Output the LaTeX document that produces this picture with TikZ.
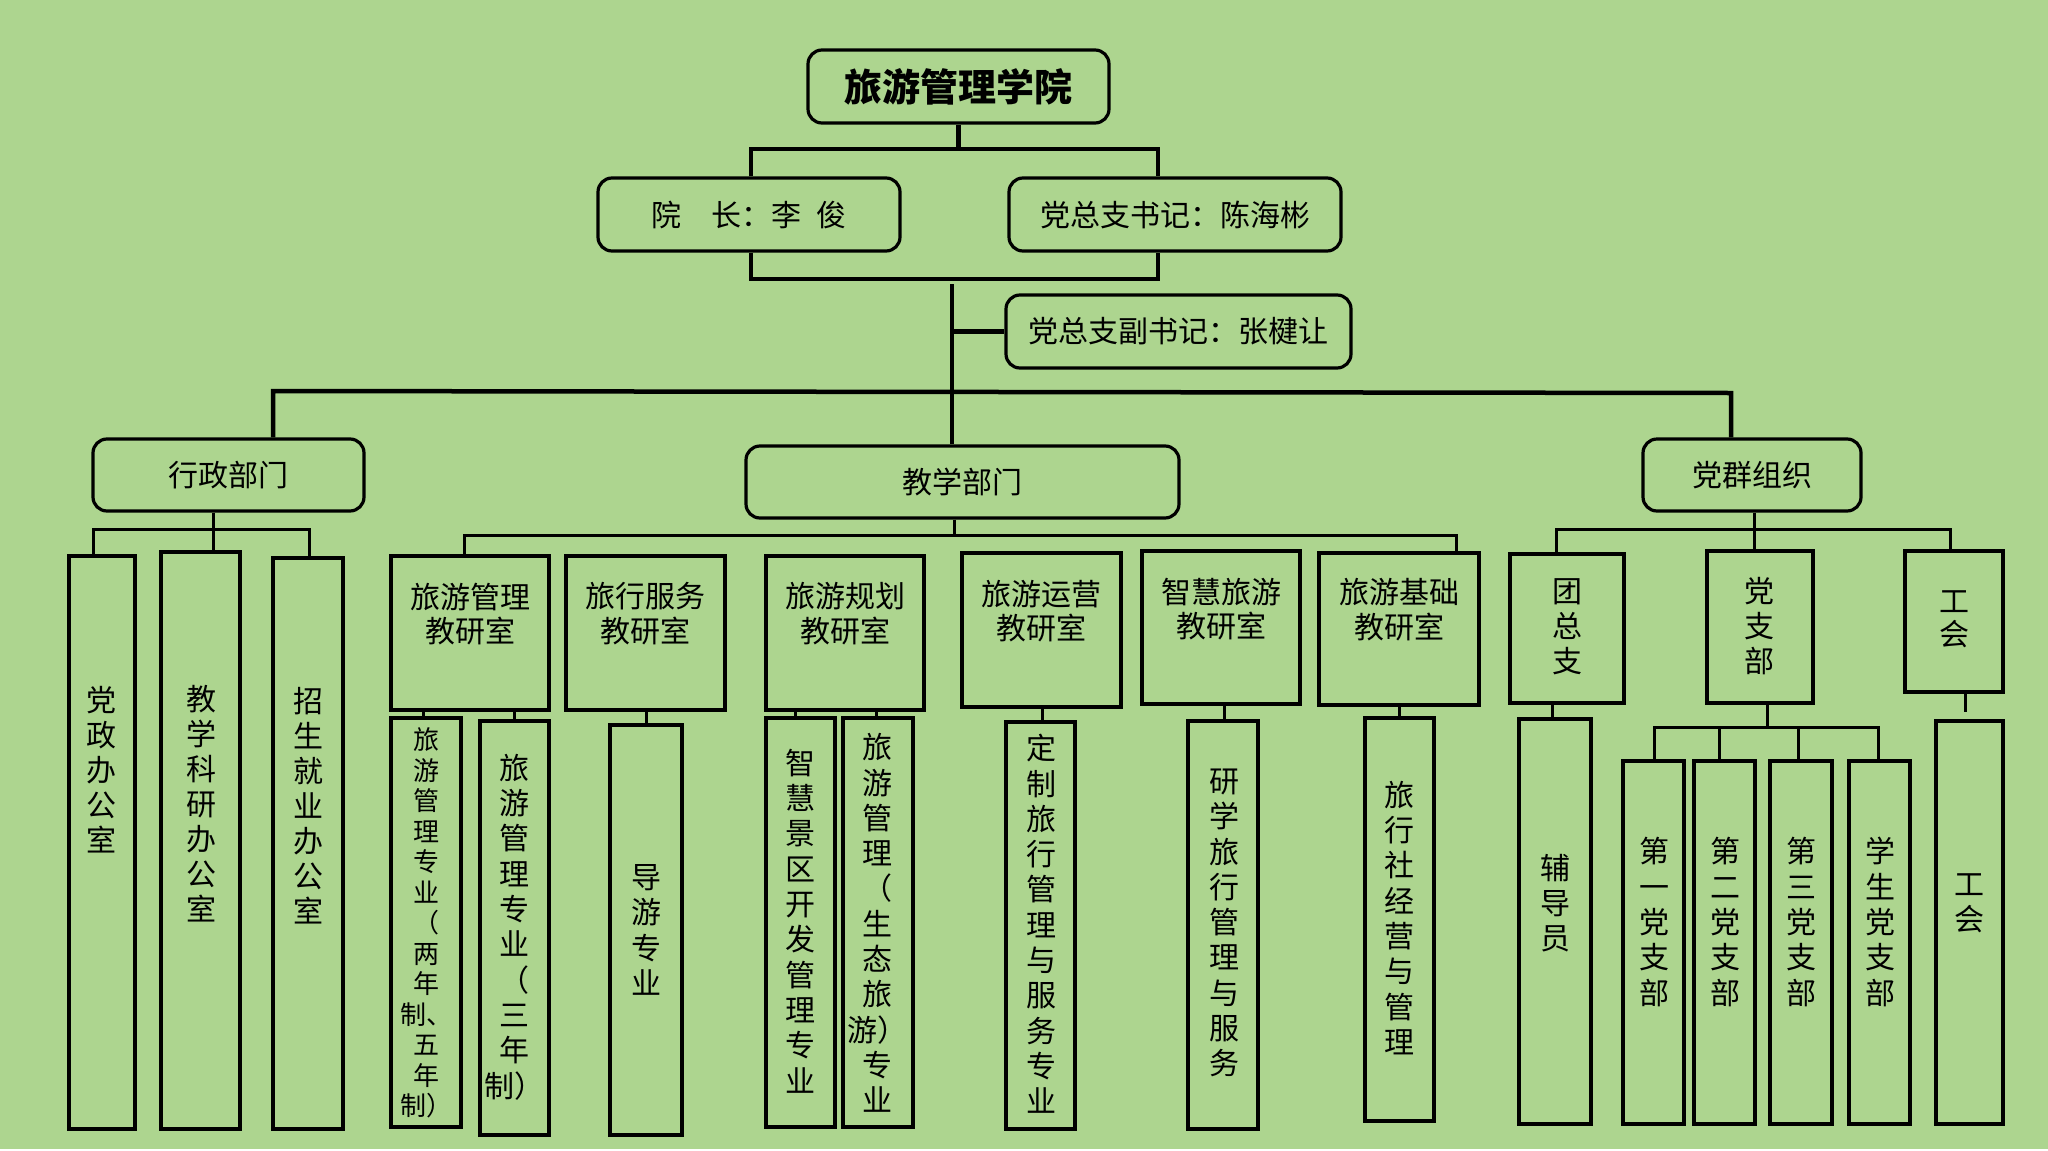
\documentclass[tikz,border=0pt]{standalone}
\usepackage{fontspec}
\newfontfamily\cjk{Noto Sans CJK SC}
\definecolor{bg}{HTML}{ADD58F}
\begin{document}
\begin{tikzpicture}[x=1pt,y=-1pt,
  box/.style={draw=black,line width=3.2pt,inner sep=0pt},
  rbox/.style={box,rounded corners=14pt,font=\cjk\fontsize{30}{34.5}\selectfont},
  wh/.style 2 args={minimum width=#1,minimum height=#2},
  hline/.style={line width=4.5pt},
  lline/.style={line width=3pt},
  txt/.style={font=\cjk\fontsize{30}{35}\selectfont,align=center,inner sep=0pt},
  stxt/.style={font=\cjk\fontsize{26}{30.5}\selectfont,align=center,inner sep=0pt},
  vtxt/.style={font=\cjk\fontsize{30}{35.3}\selectfont,align=center,inner sep=0pt},
  ]
\fill[bg] (0,0) rectangle (2048,1151);
\fill[white] (0,1149) rectangle (2048,1151);
\useasboundingbox (0,0) rectangle (2048,1151);

% ---- top level boxes
\node[rbox,wh={301}{73},font=\cjk\bfseries\fontsize{38}{40}\selectfont] (title) at (958.5,86.5) {旅游管理学院};
\node[rbox,wh={302}{73}] (dean) at (749,214.5) {院\hspace{1em}长：李\hspace{0.5em}俊};
\node[rbox,wh={332}{73}] (sec) at (1175,214.5) {党总支书记：陈海彬};
\node[rbox,wh={345}{73}] (vice) at (1178.5,331.5) {党总支副书记：张楗让};
\node[rbox,wh={271}{72}] (admin) at (228.5,475) {行政部门};
\node[rbox,wh={433}{72}] (teach) at (962.5,482) {教学部门};
\node[rbox,wh={218}{72}] (party) at (1752,475) {党群组织};

% ---- admin offices
\node[box,wh={66}{573}] (o1) at (102,842.5) {};
\node[box,wh={79}{577}] (o2) at (200.5,840.5) {};
\node[box,wh={70}{571}] (o3) at (308,843.5) {};
\node[txt] (to1) at (101,770) {党\\政\\办\\公\\室};
\node[txt] (to2) at (201,804) {教\\学\\科\\研\\办\\公\\室};
\node[txt] (to3) at (308,806) {招\\生\\就\\业\\办\\公\\室};

% ---- teaching research rooms
\node[box,wh={158}{154}] (r1) at (470,633) {};
\node[box,wh={159}{154}] (r2) at (645.5,633) {};
\node[box,wh={158}{154}] (r3) at (845,633) {};
\node[box,wh={159}{154}] (r4) at (1041.5,630) {};
\node[box,wh={158}{153}] (r5) at (1221,627.5) {};
\node[box,wh={160}{152}] (r6) at (1399,629) {};
\node[txt,font=\cjk\fontsize{30}{34.5}\selectfont] (tr1) at (470,614) {旅游管理\\教研室};
\node[txt,font=\cjk\fontsize{30}{34.5}\selectfont] (tr2) at (645.5,613.5) {旅行服务\\教研室};
\node[txt,font=\cjk\fontsize{30}{34.5}\selectfont] (tr3) at (845,613.5) {旅游规划\\教研室};
\node[txt,font=\cjk\fontsize{30}{34.5}\selectfont] (tr4) at (1041.5,611) {旅游运营\\教研室};
\node[txt,font=\cjk\fontsize{30}{34.5}\selectfont] (tr5) at (1221,609) {智慧旅游\\教研室};
\node[txt,font=\cjk\fontsize{30}{34.5}\selectfont] (tr6) at (1399,609.5) {旅游基础\\教研室};

% ---- majors
\node[box,wh={70}{409}] (m1) at (426,922.5) {};
\node[box,wh={69}{414}] (m2) at (514.5,928) {};
\node[box,wh={72}{410}] (m3) at (646,930) {};
\node[box,wh={69}{409}] (m4) at (800.5,922.5) {};
\node[box,wh={70}{409}] (m5) at (878,922.5) {};
\node[box,wh={69}{407}] (m6) at (1040.5,925.5) {};
\node[box,wh={70}{408}] (m7) at (1223,925) {};
\node[box,wh={69}{403}] (m8) at (1399.5,919.5) {};
\node[stxt] (tm1) at (426,923) {旅\\游\\管\\理\\专\\业\\（\\两\\年\\制、\\五\\年\\制）};
\node[vtxt] (tm2) at (514,927) {旅\\游\\管\\理\\专\\业\\（\\三\\年\\制）};
\node[vtxt] (tm3) at (646,930) {导\\游\\专\\业};
\node[vtxt] (tm4) at (800.5,921) {智\\慧\\景\\区\\开\\发\\管\\理\\专\\业};
\node[vtxt] (tm5) at (877,923) {旅\\游\\管\\理\\（\\生\\态\\旅\\游）\\专\\业};
\node[vtxt] (tm6) at (1041,924) {定\\制\\旅\\行\\管\\理\\与\\服\\务\\专\\业};
\node[vtxt] (tm7) at (1224,923) {研\\学\\旅\\行\\管\\理\\与\\服\\务};
\node[vtxt] (tm8) at (1399,918) {旅\\行\\社\\经\\营\\与\\管\\理};

% ---- party & mass organisations
\node[box,wh={114}{149}] (p1) at (1567,628.5) {};
\node[box,wh={106}{152}] (p2) at (1760,627) {};
\node[box,wh={98}{141}] (p3) at (1954,621.5) {};
\node[txt] (tp1) at (1567,627) {团\\总\\支};
\node[txt] (tp2) at (1759,626) {党\\支\\部};
\node[txt,font=\cjk\fontsize{30}{33}\selectfont] (tp3) at (1954,619) {工\\会};
\node[box,wh={72}{405}] (q1) at (1555,921.5) {};
\node[box,wh={61}{363}] (q2) at (1653.5,942.5) {};
\node[box,wh={61}{363}] (q3) at (1724.5,942.5) {};
\node[box,wh={62}{363}] (q4) at (1801,942.5) {};
\node[box,wh={61}{363}] (q5) at (1879.5,942.5) {};
\node[box,wh={67}{403}] (q6) at (1969.5,922.5) {};
\node[vtxt] (tq1) at (1555,903) {辅\\导\\员};
\node[vtxt] (tq2) at (1654,922) {第\\一\\党\\支\\部};
\node[vtxt] (tq3) at (1725,922) {第\\二\\党\\支\\部};
\node[vtxt] (tq4) at (1801,922) {第\\三\\党\\支\\部};
\node[vtxt] (tq5) at (1880,922) {学\\生\\党\\支\\部};
\node[vtxt] (tq6) at (1969,903) {工\\会};

% ---- top connectors
\coordinate (bA) at (751,149); \coordinate (bB) at (1158,149);
\draw[hline] (title.south) -- (title.south |- bA);
\draw[hline] (bA |- dean.north) -- (bA) -- (bB) -- (bB |- sec.north);
\coordinate (cA) at (751,279); \coordinate (cB) at (1158,279);
\draw[hline] (cA |- dean.south) -- (cA) -- (cB) -- (cB |- sec.south);
\coordinate (vA) at (952,284);
\draw[hline] (vA) -- (vA |- teach.north);
\draw[hline] (vA |- vice.west) -- (vice.west);
\coordinate (dL) at (273,391); \coordinate (dR) at (1731,393);
\draw[hline] (dL |- admin.north) -- (dL) -- (dR) -- (dR |- party.north);

% ---- admin bracket
\coordinate (eA) at (213,529); \coordinate (eL) at (93,529); \coordinate (eR) at (309,529);
\draw[lline] (eA |- admin.south) -- (eA |- o2.north);
\draw[lline] (eL |- o1.north) -- (eL) -- (eR) -- (eR |- o3.north);

% ---- teaching bracket
\coordinate (fS) at (954,535); \coordinate (fL) at (464,535); \coordinate (fR) at (1456,535);
\draw[lline] (fS |- teach.south) -- (fS);
\draw[lline] (fL |- r1.north) -- (fL) -- (fR) -- (fR |- r6.north);
\draw[lline] (r1.south -| 423,0) -- (m1.north -| 423,0);
\draw[lline] (r1.south -| 514,0) -- (m2.north -| 514,0);
\draw[lline] (r2.south -| 646,0) -- (m3.north -| 646,0);
\draw[lline] (r3.south -| 795,0) -- (m4.north -| 795,0);
\draw[lline] (r3.south -| 876,0) -- (m5.north -| 876,0);
\draw[lline] (r4.south -| 1042,0) -- (m6.north -| 1042,0);
\draw[lline] (r5.south -| 1224,0) -- (m7.north -| 1224,0);
\draw[lline] (r6.south -| 1399,0) -- (m8.north -| 1399,0);

% ---- party bracket
\coordinate (gS) at (1754,529); \coordinate (gL) at (1556,529); \coordinate (gR) at (1950,529);
\draw[lline] (gS |- party.south) -- (gS |- p2.north);
\draw[lline] (gL |- p1.north) -- (gL) -- (gR) -- (gR |- p3.north);
\draw[lline] (p1.south -| 1552,0) -- (q1.north -| 1552,0);
\coordinate (hS) at (1767,727); \coordinate (h1) at (1654,727); \coordinate (h2) at (1719,727);
\coordinate (h3) at (1798,727); \coordinate (h4) at (1878,727);
\draw[lline] (hS |- p2.south) -- (hS);
\draw[lline] (h1 |- q2.north) -- (h1) -- (h4) -- (h4 |- q5.north);
\draw[lline] (h2) -- (h2 |- q3.north);
\draw[lline] (h3) -- (h3 |- q4.north);
\coordinate (gap) at (1965,712);
\draw[lline] (p3.south -| gap) -- (gap);
\end{tikzpicture}
\end{document}
